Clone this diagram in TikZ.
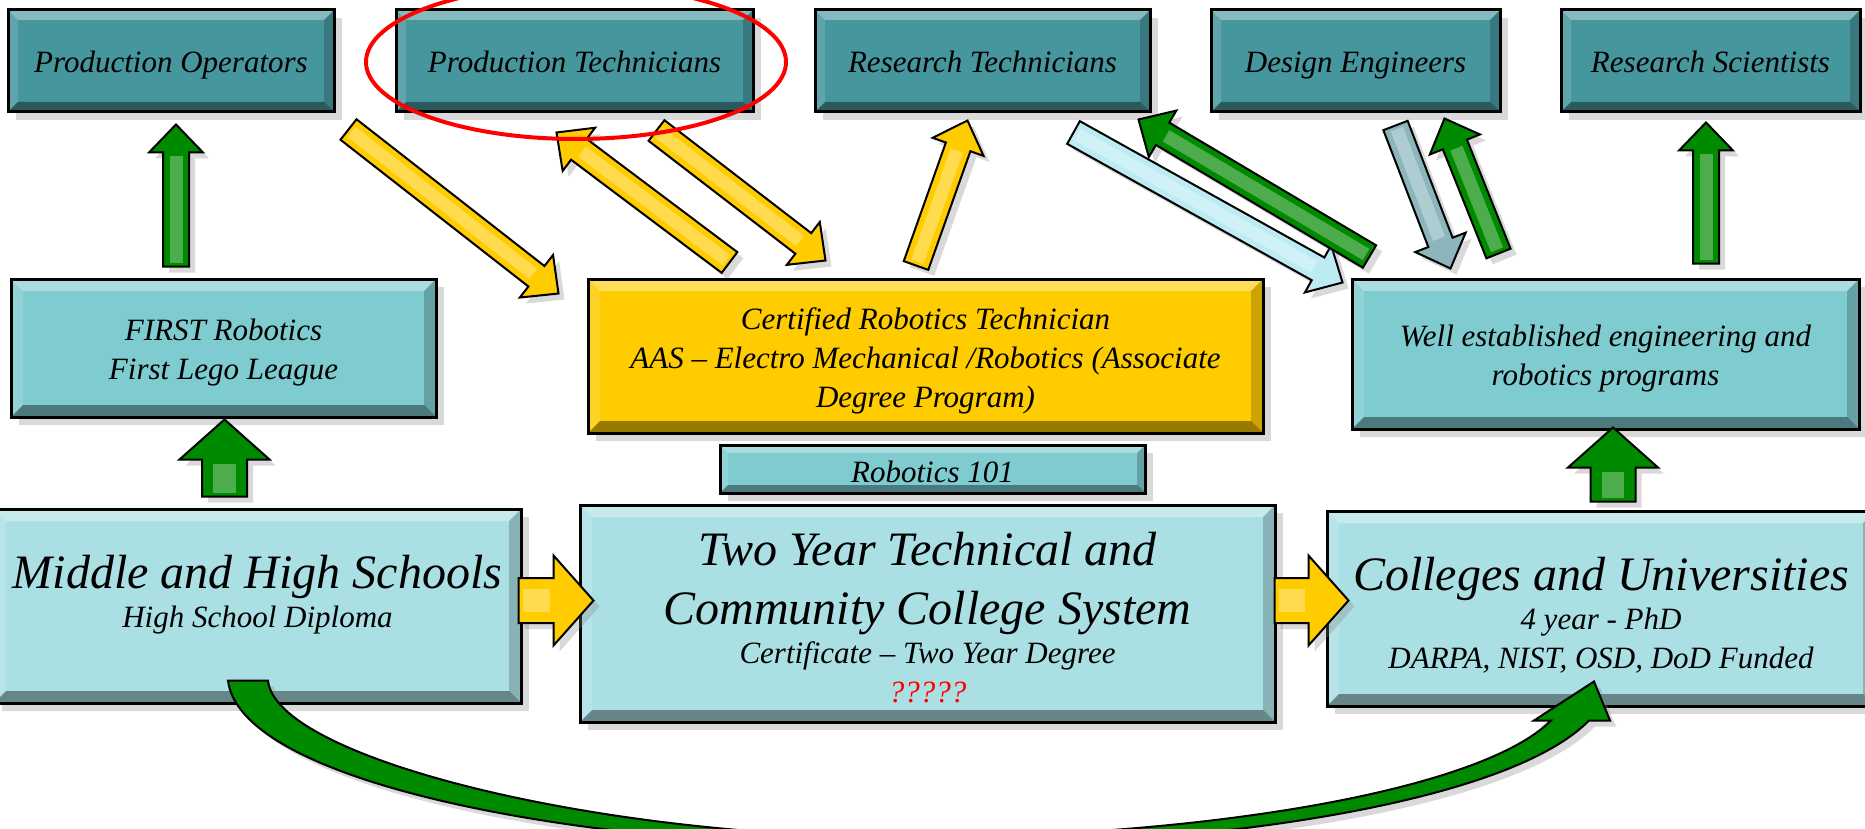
\documentclass[tikz,border=0pt]{standalone}
\usepackage{fontspec}
\setmainfont{Liberation Serif}
\usetikzlibrary{calc,shadows}

\definecolor{tealbox}{HTML}{46969E}
\definecolor{aquabox}{HTML}{7ECBD0}
\definecolor{palebox}{HTML}{AAE0E4}
\definecolor{goldbox}{HTML}{FFCC00}
\definecolor{arrowgreen}{HTML}{008A00}
\definecolor{arrowgold}{HTML}{FFCC00}
\definecolor{arrowice}{HTML}{BDEBF2}
\definecolor{arrowsteel}{HTML}{8DB6BC}

\tikzset{
  bevel/.style={path picture={
    \coordinate (pp-sw) at (path picture bounding box.south west);
    \coordinate (pp-ne) at (path picture bounding box.north east);
    \coordinate (pp-nw) at (pp-sw |- pp-ne);
    \coordinate (pp-se) at (pp-ne |- pp-sw);
    \fill[white, opacity=.35] (pp-nw) -- (pp-ne) -- ([shift={(-#1,-#1)}]pp-ne) -- ([shift={(#1,-#1)}]pp-nw) -- cycle;
    \fill[white, opacity=.15] (pp-nw) -- ([shift={(#1,-#1)}]pp-nw) -- ([shift={(#1,#1)}]pp-sw) -- (pp-sw) -- cycle;
    \fill[black, opacity=.2] (pp-ne) -- ([shift={(-#1,-#1)}]pp-ne) -- ([shift={(-#1,#1)}]pp-se) -- (pp-se) -- cycle;
    \fill[black, opacity=.4] (pp-sw) -- (pp-se) -- ([shift={(-#1,#1)}]pp-se) -- ([shift={(#1,#1)}]pp-sw) -- cycle;
  }},
  box/.style 2 args={draw=black, line width=1.5pt, fill=#1, bevel=#2, inner sep=0pt, align=center,
    font=\itshape\fontsize{15.5}{19.5}\selectfont, text depth=0pt,
    drop shadow={shadow xshift=4pt, shadow yshift=-4pt, opacity=.3}},
  topbox/.style={box={tealbox}{5pt}, minimum width=#1, minimum height=51pt, text height=12pt},
  arrowline/.style={draw=black, line width=1pt, line join=miter},
}
\newcommand{\bigline}{\fontsize{24}{29.5}\selectfont}
% block arrow: fill, tail, tip, half shaft, half head, head length
\newcommand{\blockarrow}[6]{%
  \coordinate (ba-s) at (#2);
  \coordinate (ba-t) at (#3);
  \coordinate (ba-b) at ($(ba-t)!#6!(ba-s)$);
  \filldraw[arrowline, fill=#1, drop shadow={shadow xshift=3pt, shadow yshift=-3pt, opacity=.3}]
    ($(ba-s)!#4!90:(ba-t)$) -- ($(ba-b)!#4!-90:(ba-s)$) -- ($(ba-b)!#5!-90:(ba-s)$) -- (ba-t)
    -- ($(ba-b)!#5!90:(ba-s)$) -- ($(ba-b)!#4!90:(ba-s)$) -- ($(ba-s)!#4!-90:(ba-t)$) -- cycle;
  \draw[white, opacity=.3, line width=#4] ($(ba-s)!2pt!(ba-t)$) -- ($(ba-b)!2pt!(ba-s)$);
}
\newcommand{\thinarrow}[3]{\blockarrow{#1}{#2}{#3}{6.5pt}{13.5pt}{14pt}}
\newcommand{\fatarrow}[3]{\blockarrow{#1}{#2}{#3}{11.25pt}{22.5pt}{20pt}}

\begin{document}
\begin{tikzpicture}[x=0.5pt, y=-0.5pt]
\useasboundingbox (0,0) rectangle (1865,829);
% Careers
    \node[topbox=163pt] (po) at (171,61) {Production Operators};
    \node[topbox=178.5pt] (pt) at (574.5,61) {Production Technicians};
    \node[topbox=167.5pt] (rt) at (982.5,61) {Research Technicians};
    \node[topbox=144.5pt] (de) at (1355.5,61) {Design Engineers};
    \node[topbox=149.5pt] (rs) at (1710.5,61) {Research Scientists};
% Programs
    \node[box={aquabox}{6pt}, minimum width=212.5pt, minimum height=69pt, text height=31pt] (first) at (223.5,348)
        {FIRST Robotics\\First Lego League};
    \node[box={goldbox}{6pt}, minimum width=337.5pt, minimum height=77pt, text height=51pt] (crt) at (925.5,356)
        {Certified Robotics Technician\\AAS -- Electro Mechanical /Robotics (Associate\\Degree Program)};
    \node[box={aquabox}{4pt}, minimum width=212.5pt, minimum height=24pt, text height=13pt] (r101) at (932.5,469) {Robotics 101};
    \node[box={aquabox}{6pt}, minimum width=253.5pt, minimum height=75pt, text height=31pt] (well) at (1605.5,354)
        {Well established engineering and\\robotics programs};
% Schools
    \node[box={palebox}{6pt}, minimum width=263.5pt, minimum height=97pt, text height=21pt] (mhs) at (257.5,606)
        {{\bigline Middle and High Schools}\\High School Diploma};
    \node[box={palebox}{6pt}, minimum width=347.5pt, minimum height=108.5pt, text height=88.5pt] (tyr) at (927.5,613.5)
        {{\bigline Two Year Technical and}\\[10pt]{\bigline Community College System}\\
         Certificate -- Two Year Degree\\\textcolor{red}{?????}};
    \node[box={palebox}{6pt}, minimum width=274pt, minimum height=97.5pt, text height=59.5pt] (cu) at (1601,608.5)
        {{\bigline Colleges and Universities}\\4 year - PhD\\DARPA, NIST, OSD, DoD Funded};
% Pathways
    \thinarrow{arrowgold}{$(po.south east)+(13,16)$}{$(crt.north west)+(-28,16)$}
    \thinarrow{arrowgold}{$(crt.north west)+(143,-15)$}{$(pt.south west)+(162,19)$}
    \thinarrow{arrowgold}{$(pt.south west)+(262,17)$}{$(crt.north west)+(239,-17)$}
    \thinarrow{arrowgold}{$(crt.north)+(-9.5,-12)$}{$(rt.south west)+(154,7)$}
    \thinarrow{arrowice}{$(rt.south east)+(-78,19)$}{$(well.north west)+(-8,5)$}
    \thinarrow{arrowgreen}{$(well.north west)+(19,-21)$}{$(rt.south east)+(-13,6)$}
    \thinarrow{arrowsteel}{$(de.south west)+(186,12)$}{$(well.north west)+(100,-9)$}
    \thinarrow{arrowgreen}{$(well.north west)+(148,-24)$}{$(de.south west)+(235,5)$}
    \thinarrow{arrowgreen}{$(first.north)+(-47.5,-11)$}{$(po.south)+(5,11)$}
    \thinarrow{arrowgreen}{$(well.north)+(100.5,-14)$}{$(rs.south)+(-4.5,9)$}
    \fatarrow{arrowgreen}{$(mhs.north)+(-33,-11)$}{$(first.south)+(1,1)$}
    \fatarrow{arrowgreen}{$(cu.north)+(12,-8)$}{$(well.south)+(7.5,-3)$}
    \fatarrow{arrowgold}{$(mhs.east)+(-4,-5.5)$}{$(tyr.west)+(15,-13)$}
    \fatarrow{arrowgold}{$(tyr.east)+(-2,-13)$}{$(cu.west)+(23,-8)$}
% Straight to the universities
    \coordinate (low) at ($(mhs.south)!.5!(cu.south)+(-19,131.5)$);
    \filldraw[arrowline, fill=arrowgreen, drop shadow={shadow xshift=3pt, shadow yshift=-3pt, opacity=.3}]
        ($(mhs.south)+(10.5,-24)$) .. controls +(7,76) and +(-320,0) .. (low)
        .. controls +(290,0) and +(-71,71) .. ($(cu.south)+(-50,13)$)
        -- ($(cu.south)+(-67,13)$) -- ($(cu.south)+(-7,-26)$) -- ($(cu.south)+(9,13)$)
        -- ($(cu.south)+(-12,13)$) .. controls +(-79,81) and +(310,0) .. ($(low)+(0,10)$)
        .. controls +(-340,0) and +(12,101) .. ($(mhs.south)+(-29.5,-24)$) -- cycle;
% Highlight
    \draw[red, line width=2pt] ([xshift=0.75pt, yshift=-0.5pt]pt.center) ellipse [x radius=105pt, y radius=38.5pt];
\end{tikzpicture}
\end{document}
